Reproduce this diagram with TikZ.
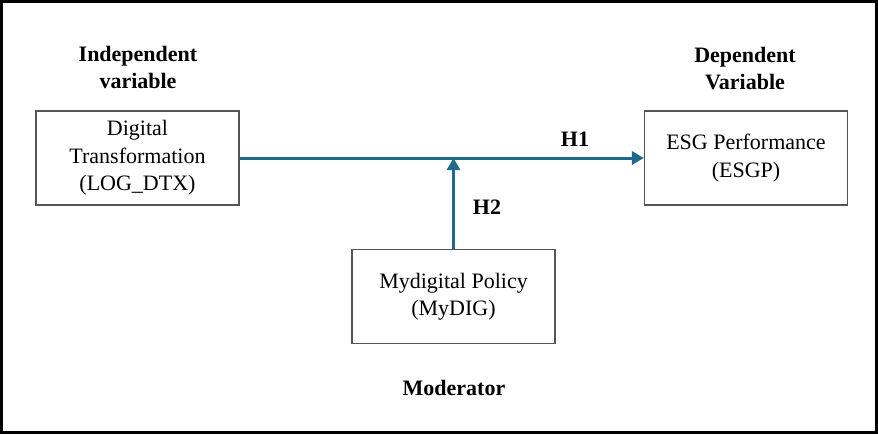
\documentclass[tikz,border=0pt]{standalone}
\usepackage{fontspec}
\setmainfont{Liberation Serif}
\usepackage{tikz}
\usetikzlibrary{arrows.meta,positioning}
\definecolor{link}{HTML}{1F6A8C}
\definecolor{frame}{HTML}{555555}

\begin{document}
\begin{tikzpicture}[x=1pt,y=-1pt,
    varbox/.style={draw=frame,line width=1.2pt,align=center,inner sep=0pt,
      minimum width=203pt,minimum height=94pt,font=\fontsize{22}{27.5}\selectfont},
    head/.style={font=\fontsize{22}{27}\selectfont\bfseries,align=center},
    hyp/.style={link,line width=3pt,-{Triangle[length=12pt,width=13pt]}}]
  % frame
  \useasboundingbox (0,0) rectangle (878,434);
  \draw[line width=3pt] (1.5,1.5) rectangle (876.5,432.5);

  % headings
  \node[head] (ivlabel) at (138,67) {Independent\\variable};
  \node[head] (dvlabel) at (745,69) {Dependent\\Variable};
  \node[head] (modlabel) at (454,388) {Moderator};

  % variables
  \node[varbox] (dtx) at (137.5,158) {Digital\\Transformation\\(LOG\_DTX)};
  \node[varbox] (esgp) at (746,158) {ESG Performance\\(ESGP)};
  \node[varbox] (mydig) at (453.5,296.5) {Mydigital Policy\\(MyDIG)};

  % hypotheses
  \draw[hyp] (dtx.east) -- (esgp.west);
  \coordinate (jn) at (mydig.north |- dtx.east);
  \draw[hyp] (mydig.north) -- (jn);
  \node[head] (h1) at (575,139) {H1};
  \node[head] (h2) at (487,207) {H2};
\end{tikzpicture}
\end{document}
